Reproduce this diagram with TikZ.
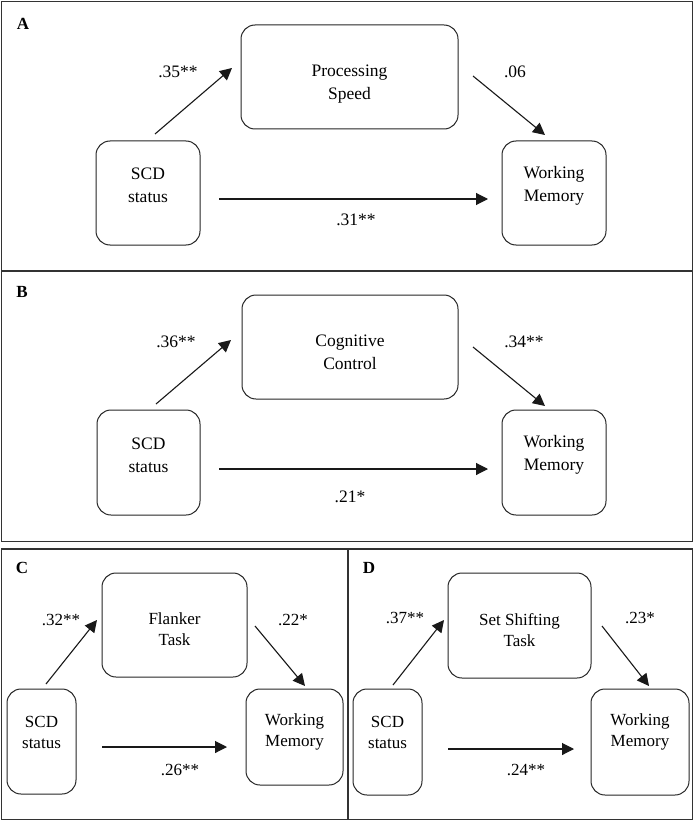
\documentclass[tikz,border=0pt]{standalone}
\usepackage{fontspec}
\setmainfont{Liberation Serif}
\usetikzlibrary{arrows.meta}
\begin{document}
\begin{tikzpicture}[x=1pt,y=-1pt,
  frame/.style={draw=black!80, line width=1.3pt},
  box/.style={draw=black!85, line width=1pt, rounded corners=14pt, inner sep=0pt},
  txt/.style={align=center, inner sep=0pt, text=black, font=\fontsize{17.5}{23}\selectfont},
  txts/.style={align=center, inner sep=0pt, text=black, font=\fontsize{17}{21}\selectfont},
  num/.style={inner sep=0pt, text=black, font=\fontsize{17.5}{21}\selectfont},
  nums/.style={inner sep=0pt, text=black, font=\fontsize{17}{21}\selectfont},
  panel/.style={inner sep=0pt, font=\fontsize{17}{20}\selectfont\bfseries},
  arr/.style={draw=black!90, line width=1.1pt, -{Triangle[length=12pt,width=12pt]}}
]
\useasboundingbox (0,0) rectangle (695,821);
\fill[white] (0,0) rectangle (695,821);

% ---------- frames ----------
\draw[frame] (1.5,1.5) rectangle (692.5,270.5);
\draw[frame] (1.5,271.5) rectangle (692.5,541.5);
\draw[frame] (1.5,549) rectangle (692.5,819.5);
\draw[frame] (348,549) -- (348,819.5);

% ---------- Panel A ----------
\node[panel] (lA) at (23,24) {A};
\node[box, minimum width=217pt, minimum height=104pt] (psA) at (349.5,77) {};
\node[txt] (psAt) at (349.5,84) {Processing\\Speed};
\node[box, minimum width=104pt, minimum height=104pt] (scdA) at (148,193) {};
\node[txt] (scdAt) at (148,185.5) {SCD\\status};
\node[box, minimum width=104pt, minimum height=104pt] (wmA) at (554,193) {};
\node[txt] (wmAt) at (554,185.5) {Working\\Memory};
\coordinate (a1s) at (155,134); \coordinate (a1e) at (232,68);
\coordinate (a2s) at (473,76);  \coordinate (a2e) at (545,135);
\coordinate (a3s) at (219,199); \coordinate (a3e) at (488,199);
\draw[arr] (a1s) -- (a1e);
\draw[arr] (a2s) -- (a2e);
\draw[arr] (a3s) -- (a3e);
\node[num] (nA1) at (178,72) {.35**};
\node[num] (nA2) at (515,72) {.06};
\node[num] (nA3) at (356,220) {.31**};

% ---------- Panel B ----------
\node[panel] (lB) at (22,292) {B};
\node[box, minimum width=216pt, minimum height=104pt] (ccB) at (350,347) {};
\node[txt] (ccBt) at (350,352.5) {Cognitive\\Control};
\node[box, minimum width=103pt, minimum height=105pt] (scdB) at (148.5,462.5) {};
\node[txt] (scdBt) at (148.5,455) {SCD\\status};
\node[box, minimum width=104pt, minimum height=105pt] (wmB) at (554,462.5) {};
\node[txt] (wmBt) at (554,455) {Working\\Memory};
\coordinate (b1s) at (156,404); \coordinate (b1e) at (231,340);
\coordinate (b2s) at (473,347); \coordinate (b2e) at (545,406);
\coordinate (b3s) at (219,469); \coordinate (b3e) at (488,469);
\draw[arr] (b1s) -- (b1e);
\draw[arr] (b2s) -- (b2e);
\draw[arr] (b3s) -- (b3e);
\node[num] (nB1) at (176,342) {.36**};
\node[num] (nB2) at (524,342) {.34**};
\node[num] (nB3) at (350,497) {.21*};

% ---------- Panel C ----------
\node[panel] (lC) at (22,568) {C};
\node[box, minimum width=145pt, minimum height=104pt] (flC) at (174.5,625) {};
\node[txts] (flCt) at (174.5,629) {Flanker\\Task};
\node[box, minimum width=69pt, minimum height=105pt] (scdC) at (41.5,741.5) {};
\node[txts] (scdCt) at (41.5,732) {SCD\\status};
\node[box, minimum width=97pt, minimum height=96pt] (wmC) at (294.5,737) {};
\node[txts] (wmCt) at (294.5,732) {Working\\Memory};
\coordinate (c1s) at (46,684);  \coordinate (c1e) at (97,620);
\coordinate (c2s) at (255,626); \coordinate (c2e) at (305,686);
\coordinate (c3s) at (102,747); \coordinate (c3e) at (227,747);
\draw[arr] (c1s) -- (c1e);
\draw[arr] (c2s) -- (c2e);
\draw[arr] (c3s) -- (c3e);
\node[nums] (nC1) at (61,620) {.32**};
\node[nums] (nC2) at (293,620) {.22*};
\node[nums] (nC3) at (180,770) {.26**};

% ---------- Panel D ----------
\node[panel] (lD) at (369,568) {D};
\node[box, minimum width=143pt, minimum height=105pt] (ssD) at (519.5,625.5) {};
\node[txts] (ssDt) at (519.5,630) {Set Shifting\\Task};
\node[box, minimum width=69pt, minimum height=106pt] (scdD) at (387.5,742) {};
\node[txts] (scdDt) at (387.5,732) {SCD\\status};
\node[box, minimum width=98pt, minimum height=106pt] (wmD) at (640,742) {};
\node[txts] (wmDt) at (640,732) {Working\\Memory};
\coordinate (d1s) at (393,685); \coordinate (d1e) at (444,620);
\coordinate (d2s) at (602,626); \coordinate (d2e) at (649,686);
\coordinate (d3s) at (448,749); \coordinate (d3e) at (574,749);
\draw[arr] (d1s) -- (d1e);
\draw[arr] (d2s) -- (d2e);
\draw[arr] (d3s) -- (d3e);
\node[nums] (nD1) at (405,618) {.37**};
\node[nums] (nD2) at (640,618) {.23*};
\node[nums] (nD3) at (526,770) {.24**};
\end{tikzpicture}
\end{document}
